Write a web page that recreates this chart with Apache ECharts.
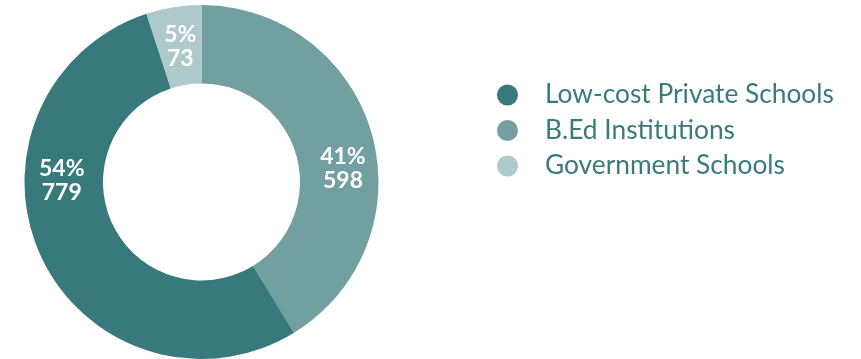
<!DOCTYPE html>
<html>
<head>
<meta charset="utf-8">
<script src="https://cdn.jsdelivr.net/npm/echarts@6/dist/echarts.min.js"></script>
<style>
  html, body { margin: 0; padding: 0; background: #fff; }
  #chart { width: 861px; height: 359px; }
</style>
</head>
<body>
<div id="chart"></div>
<script>
// Respondents by institution type
const categories = ['B.Ed Institutions', 'Low-cost Private Schools', 'Government Schools'];
const values = [598, 779, 73];
const legendOrder = ['Low-cost Private Schools', 'B.Ed Institutions', 'Government Schools'];

const colors = {
  'Low-cost Private Schools': '#387a7c',
  'B.Ed Institutions': '#72a0a1',
  'Government Schools': '#aec9ca'
};

// Nudges for the in-ring labels (pixels)
const labelShift = [[6, 25], [-12, -61], [1, 4]];

const chart = echarts.init(document.getElementById('chart'), null, { renderer: 'canvas' });

chart.setOption({
  animation: false,
  legend: {
    data: legendOrder,
    orient: 'vertical',
    left: 492,
    top: 77,
    icon: 'circle',
    itemWidth: 21,
    itemHeight: 21,
    itemGap: 9.5,
    selectedMode: false,
    textStyle: {
      fontFamily: 'Lato',
      fontSize: 26.3,
      color: '#3a7a7c',
      padding: [0, 0, 0, 22],
      lineHeight: 26
    }
  },
  series: [{
    type: 'pie',
    center: [201.5, 182],
    radius: [98.5, 177],
    startAngle: 90,
    clockwise: true,
    silent: true,
    label: {
      position: 'inside',
      color: '#fff',
      fontFamily: 'Lato',
      fontSize: 23,
      fontWeight: 'bold',
      lineHeight: 24,
      formatter: p => Math.round(p.percent) + '%\n' + p.value
    },
    labelLine: { show: false },
    labelLayout: p => ({ dx: labelShift[p.dataIndex][0], dy: labelShift[p.dataIndex][1] }),
    itemStyle: { borderWidth: 0 },
    data: categories.map((name, i) => ({
      name: name,
      value: values[i],
      itemStyle: { color: colors[name] }
    }))
  }]
});
</script>
</body>
</html>
